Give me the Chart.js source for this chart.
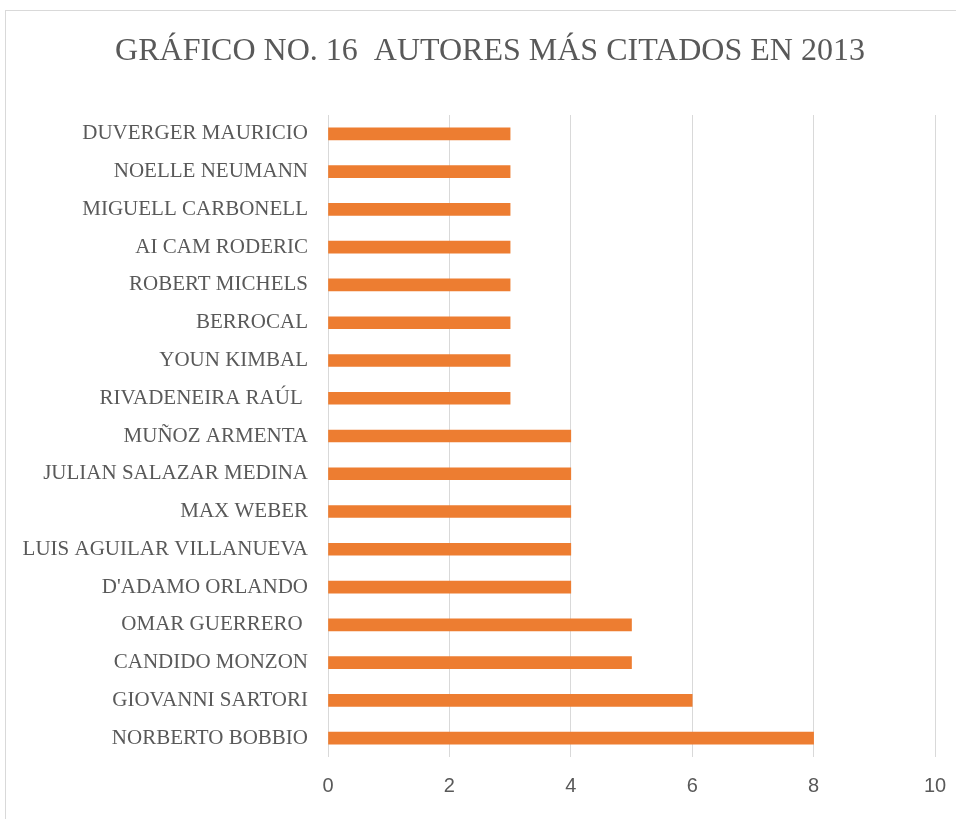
<!DOCTYPE html>
<html>
<head>
<meta charset="utf-8">
<script src="https://cdn.jsdelivr.net/npm/chart.js@4"></script>
<style>
  html, body { margin: 0; padding: 0; background: #fff; overflow: hidden; width: 957px; height: 820px; }
  #frame { position: absolute; left: 5px; top: 10px; width: 950px; height: 808px; border: 1px solid #d9d9d9; border-right: none; border-bottom: none; }
  #wrap { position: absolute; left: 0; top: 0; width: 957px; height: 820px; }
</style>
</head>
<body>
<div id="frame"></div>
<div id="wrap"><canvas id="grafico"></canvas></div>
<script>
// autores, de arriba hacia abajo
var autores = [
  "DUVERGER MAURICIO",
  "NOELLE NEUMANN",
  "MIGUELL CARBONELL",
  "AI CAM RODERIC",
  "ROBERT MICHELS",
  "BERROCAL",
  "YOUN KIMBAL",
  "RIVADENEIRA RAÚL ",
  "MUÑOZ ARMENTA",
  "JULIAN SALAZAR MEDINA",
  "MAX WEBER",
  "LUIS AGUILAR VILLANUEVA",
  "D'ADAMO ORLANDO",
  "OMAR GUERRERO ",
  "CANDIDO MONZON",
  "GIOVANNI SARTORI",
  "NORBERTO BOBBIO"
];
var citas = [3, 3, 3, 3, 3, 3, 3, 3, 4, 4, 4, 4, 4, 5, 5, 6, 8];
var escalaX = [0, 2, 4, 6, 8, 10];

var titulo = "GRÁFICO NO. 16  AUTORES MÁS CITADOS EN 2013";
var gris = "#595959";

// titulo centrado sobre el marco, no sobre el canvas
var pluginTitulo = {
  id: 'tituloMarco',
  afterDraw: function(chart) {
    var c = chart.ctx;
    c.save();
    c.fillStyle = gris;
    c.font = "32px 'Liberation Serif'";
    c.textAlign = "center";
    c.textBaseline = "middle";
    c.fillText(titulo, 490, 52);
    c.restore();
  }
};

var ctx = document.getElementById("grafico");
var grafico = new Chart(ctx, {
  type: 'bar',
  data: {
    labels: autores,
    datasets: [{
      data: citas,
      backgroundColor: "#ed7d31",
      barThickness: 12
    }]
  },
  plugins: [pluginTitulo],
  options: {
    indexAxis: 'y',
    responsive: true,
    maintainAspectRatio: false,
    animation: false,
    layout: {
      padding: { left: 0, right: 22, top: 115, bottom: 5 }
    },
    plugins: {
      legend: { display: false },
      tooltip: { enabled: false },
      title: { display: false }
    },
    scales: {
      x: {
        min: escalaX[0],
        max: escalaX[escalaX.length - 1],
        afterBuildTicks: function(axis) {
          axis.ticks = escalaX.map(function(v) { return { value: v }; });
        },
        afterFit: function(axis) {
          axis.paddingLeft = 0;
          axis.paddingRight = 0;
        },
        grid: { color: "#d9d9d9", lineWidth: 1, drawTicks: false },
        border: { display: false },
        ticks: {
          color: gris,
          padding: 17,
          font: { family: "Liberation Sans", size: 20 }
        }
      },
      y: {
        afterFit: function(axis) { axis.width = 328; },
        grid: { display: false, drawTicks: false },
        border: { display: false },
        ticks: {
          color: gris,
          padding: 20,
          autoSkip: false,
          font: { family: "Liberation Serif", size: 21 }
        }
      }
    }
  }
});
</script>
</body>
</html>
